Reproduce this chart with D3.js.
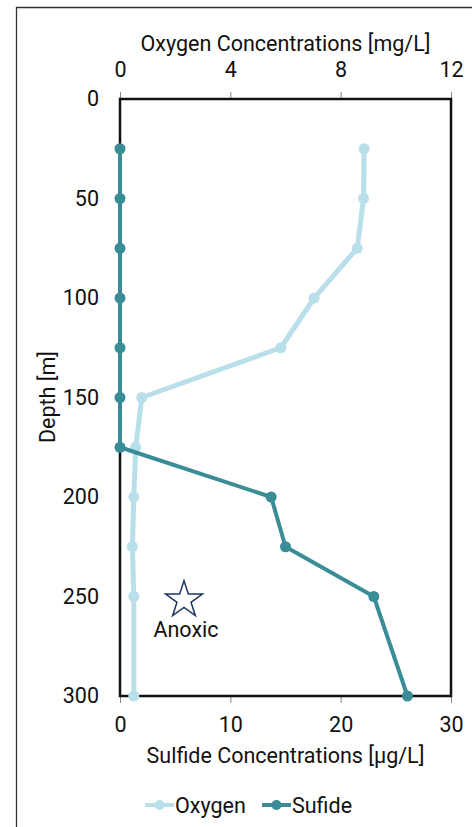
<!DOCTYPE html>
<head>
  <meta charset="utf-8">
  <title>Oxygen and sulfide profile</title>
  <script src="https://d3js.org/d3.v7.min.js"></script>
  <style>
    body { margin: 0; background: #fff; }
    text { font-family: Roboto, "Noto Sans", sans-serif; fill: #111; }
  </style>
</head>
<body>
  <div id="viz"></div>
</body>
<script>
  // depths in metres
  const depths = [25, 50, 75, 100, 125, 150, 175, 200, 225, 250, 300];
  // oxygen in mg/L
  const oxygen = [8.85, 8.83, 8.6, 7.04, 5.83, 0.79, 0.57, 0.5, 0.45, 0.5, 0.5];
  // sulfide in ug/L
  const sulfide = [0, 0, 0, 0, 0, 0, 0, 13.7, 15.0, 23.0, 26.05];

  const depthTicks = [0, 50, 100, 150, 200, 250, 300];
  const oxygenTicks = [0, 4, 8, 12];
  const sulfideTicks = [0, 10, 20, 30];

  const colorSet = { oxygen: "#b9dfeb", sulfide: "#3a8d97", star: "#1f3562" };

  const FS = "21.5px";
  const W = 472, H = 827;
  const plot = { left: 120, right: 451, top: 99, bottom: 696 };

  const svg = d3.select("#viz").append("svg").attr("width", W).attr("height", H);

  // outer frame, clipped at right and bottom
  svg.append("path")
    .attr("d", "M16.5," + H + "V7.5H" + W)
    .attr("fill", "none")
    .attr("stroke", "#333")
    .attr("stroke-width", 1.3);

  const y = d3.scaleLinear().domain([0, 300]).range([plot.top, plot.bottom]);
  const xO = d3.scaleLinear().domain([0, 12]).range([plot.left, plot.right]);
  const xS = d3.scaleLinear().domain([0, 30]).range([plot.left, plot.right]);

  // top axis (oxygen)
  const topAxis = svg.append("g").attr("transform", "translate(0," + plot.top + ")")
    .call(d3.axisTop(xO).tickValues(oxygenTicks).tickSize(7).tickPadding(15));
  // bottom axis (sulfide)
  const botAxis = svg.append("g").attr("transform", "translate(0," + plot.bottom + ")")
    .call(d3.axisBottom(xS).tickValues(sulfideTicks).tickSize(7).tickPadding(14));
  // left axis (depth)
  const leftAxis = svg.append("g").attr("transform", "translate(" + plot.left + ",0)")
    .call(d3.axisLeft(y).tickValues(depthTicks).tickSize(0).tickPadding(21));

  [topAxis, botAxis, leftAxis].forEach(function (g) {
    g.select(".domain").remove();
    g.selectAll(".tick line").attr("stroke", "#888").attr("stroke-width", 1);
    g.selectAll(".tick text").style("font-size", FS).attr("fill", "#111");
  });

  // plot frame
  svg.append("rect")
    .attr("x", plot.left).attr("y", plot.top)
    .attr("width", plot.right - plot.left).attr("height", plot.bottom - plot.top)
    .attr("fill", "none").attr("stroke", "#111").attr("stroke-width", 2.5);

  // axis titles
  svg.append("text").text("Oxygen Concentrations [mg/L]")
    .attr("x", (plot.left + plot.right) / 2).attr("y", 51)
    .attr("text-anchor", "middle").style("font-size", FS);
  svg.append("text").text("Sulfide Concentrations [µg/L]")
    .attr("x", (plot.left + plot.right) / 2).attr("y", 763)
    .attr("text-anchor", "middle").style("font-size", FS);
  svg.append("text").text("Depth [m]")
    .attr("transform", "translate(55,397) rotate(-90)")
    .attr("text-anchor", "middle").style("font-size", FS);

  // series
  const oxyData = depths.map(function (d, i) { return [oxygen[i], d]; });
  const sulData = depths.map(function (d, i) { return [sulfide[i], d]; });

  function drawSeries(data, xScale, color, width) {
    svg.append("path")
      .datum(data)
      .attr("fill", "none")
      .attr("stroke", color)
      .attr("stroke-width", width)
      .attr("stroke-linejoin", "round")
      .attr("d", d3.line().x(function (d) { return xScale(d[0]); }).y(function (d) { return y(d[1]); }));
    svg.append("g").selectAll("circle")
      .data(data)
      .join("circle")
      .attr("cx", function (d) { return xScale(d[0]); })
      .attr("cy", function (d) { return y(d[1]); })
      .attr("r", 5.5)
      .attr("fill", color);
  }

  drawSeries(oxyData, xO, colorSet.oxygen, 5);
  drawSeries(sulData, xS, colorSet.sulfide, 4);

  // anoxic annotation
  svg.append("path")
    .attr("d", d3.symbol().type(d3.symbolStar).size(420)())
    .attr("transform", "translate(184,600)")
    .attr("fill", "none")
    .attr("stroke", colorSet.star)
    .attr("stroke-width", 1.5);
  svg.append("text").text("Anoxic")
    .attr("x", 186).attr("y", 637)
    .attr("text-anchor", "middle").style("font-size", FS);

  // legend
  const legend = [
    { name: "Oxygen", color: colorSet.oxygen, x: 145 },
    { name: "Sufide", color: colorSet.sulfide, x: 262 }
  ];
  const lg = svg.append("g").selectAll("g").data(legend).join("g")
    .attr("transform", function (d) { return "translate(" + d.x + ",805)"; });
  lg.append("line").attr("x1", 0).attr("x2", 29).attr("y1", 0).attr("y2", 0)
    .attr("stroke", function (d) { return d.color; }).attr("stroke-width", 4);
  lg.append("circle").attr("cx", 14.5).attr("cy", 0).attr("r", 5)
    .attr("fill", function (d) { return d.color; });
  lg.append("text").text(function (d) { return d.name; })
    .attr("x", 30).attr("y", 7.5).style("font-size", FS);
</script>
</html>
